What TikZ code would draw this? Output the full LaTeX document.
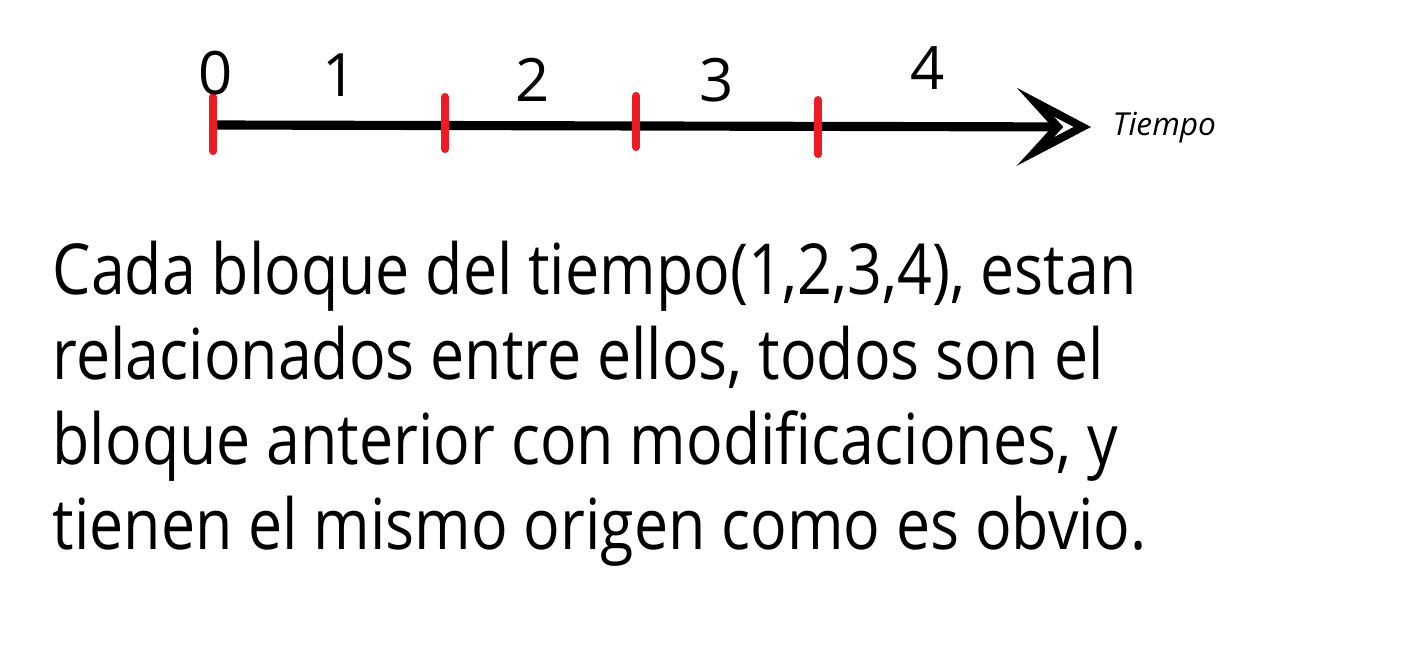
\documentclass[tikz,border=0pt]{standalone}
\usepackage{fontspec}
\setmainfont[FakeStretch=0.865]{Open Sans}
\newfontfamily\etiquetafont{Open Sans}
\usetikzlibrary{arrows.meta}
\definecolor{rojomarca}{HTML}{ED1C24}

\begin{document}
\begin{tikzpicture}[x=0.01cm, y=-0.01cm,
    eje/.style={line width=2.6pt, -{Stealth[open, length=21pt, width=22pt, inset=10pt, line width=2.3pt]}},
    marca/.style={rojomarca, line width=2.3pt, line cap=round},
    digito/.style={font=\etiquetafont\fontsize{17pt}{20pt}\selectfont, inner sep=0pt},
    etiqueta/.style={font=\etiquetafont\fontsize{9pt}{11pt}\selectfont\itshape, inner sep=0pt, anchor=west}
]
    \useasboundingbox[fill=white] (0,0) rectangle (1416,664);

    % -------------------------------
    % linea del tiempo
    % -------------------------------
    \coordinate (origen) at (213,125);
    \coordinate (fin) at (1091,127);
    \draw[eje] (origen) -- (fin);

    % marcas rojas
    \foreach \x/\ya/\yb in {213/97/151, 445/97/149, 636/96/147, 818/100/154} {
        \draw[marca] (\x,\ya) -- (\x,\yb);
    }

    % numeros de bloque
    \foreach \n/\x/\y in {0/216/73, 1/340/75, 2/533/80, 3/717/80, 4/928/68} {
        \node[digito] (num\n) at (\x,\y) {\n};
    }

    \node[etiqueta] (tiempo) at (1112,128) {Tiempo};

    % -------------------------------
    % texto explicativo
    % -------------------------------
    \node[anchor=north west, align=left, inner sep=0pt,
          font=\fontsize{20pt}{24.2pt}\selectfont] (texto) at (52,240)
        {Cada bloque del tiempo(1,2,3,4), estan\\
         relacionados entre ellos, todos son el\\
         bloque anterior con modificaciones, y\\
         tienen el mismo origen como es obvio.};

\end{tikzpicture}
\end{document}
